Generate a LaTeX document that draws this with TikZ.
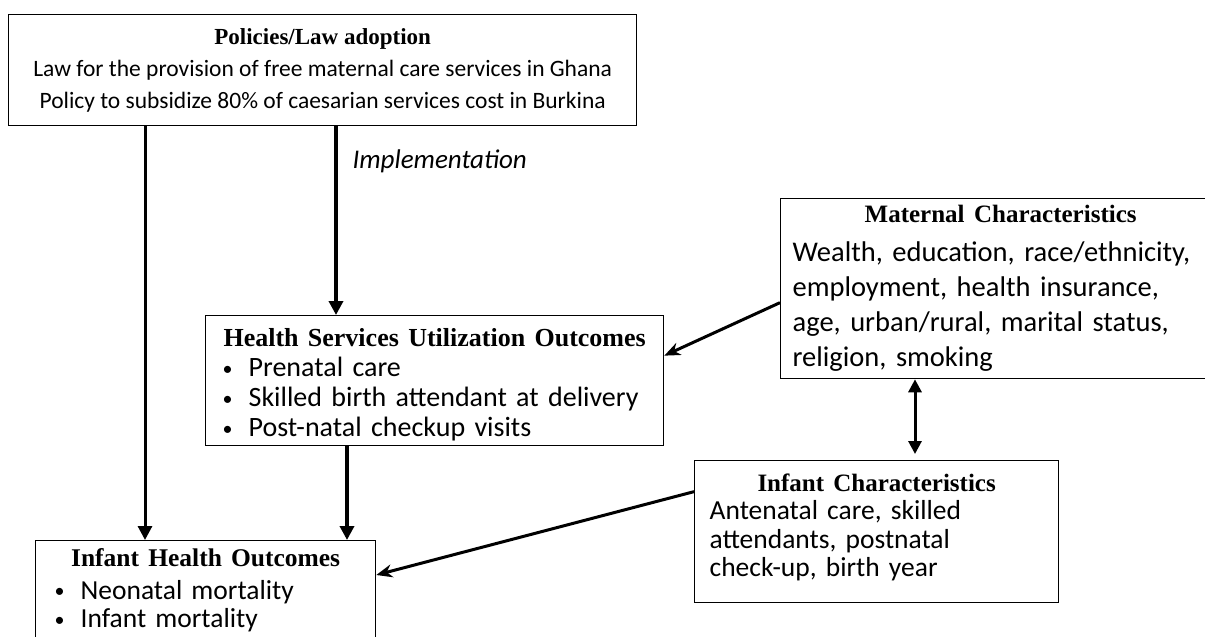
\documentclass[tikz,border=0pt]{standalone}
\usepackage{fontspec}
\setmainfont{Carlito}
\newfontfamily\headfont{Liberation Serif}
\usetikzlibrary{arrows.meta,positioning}
\newcommand\hd{\headfont\bfseries}
\newcommand\bul{\hspace*{3pt}\makebox[26pt][l]{\raisebox{1.5pt}{\fontsize{20}{20}\selectfont\textbullet}}}
\tikzset{
  box/.style={draw,line width=1.3pt,anchor=north west,inner ysep=0pt},
  arr/.style={-{Triangle[length=14pt,width=14pt]},line width=3pt},
  arrd/.style={{Triangle[length=13pt,width=13pt]}-{Triangle[length=13pt,width=13pt]},line width=3pt},
  arrs/.style={-{Stealth[length=16pt,width=13pt]},line width=3pt},
}
\begin{document}
\begin{tikzpicture}[x=1pt,y=-1pt]
  \clip (0,0) rectangle (1205,637);
  \node[box,minimum width=628pt,minimum height=111pt,align=center,font=\fontsize{23.5}{32}\selectfont] (pol) at (8,14)
    {{\hd\fontsize{23}{32}\selectfont Policies/Law adoption}\\
     Law for the provision of free maternal care services in Ghana\\
     Policy to subsidize 80\% of caesarian services cost in Burkina};
  \node[box,minimum width=458pt,minimum height=130pt,text width=430pt,inner xsep=14pt,align=left,font=\fontsize{28}{30}\selectfont] (hsu) at (205,315)
    {\centering{\hd\fontsize{26}{30}\selectfont\rule{0pt}{27pt}Health Services Utilization Outcomes}\par
     \raggedright\bul Prenatal care\\
     \bul Skilled birth attendant at delivery\\
     \bul Post-natal checkup visits};
  \node[box,minimum width=440pt,minimum height=180pt,text width=416pt,inner xsep=10pt,align=left,font=\fontsize{28.5}{35}\selectfont] (mat) at (780,198)
    {\centering{\hd\fontsize{25}{34}\selectfont Maternal Characteristics}\par\kern4pt
     \raggedright Wealth, education, race/ethnicity,\\
     employment, health insurance,\\
     age, urban/rural, marital status,\\
     religion, smoking};
  \node[box,minimum width=364pt,minimum height=142pt,text width=334pt,inner xsep=15pt,align=left,font=\fontsize{27.5}{28.5}\selectfont] (ich) at (694,460)
    {\centering{\hd\fontsize{25}{30}\selectfont Infant Characteristics}\par
     \raggedright Antenatal care, skilled\\
     attendants, postnatal\\
     check-up, birth year\par\kern8pt};
  \node[box,minimum width=340pt,minimum height=100pt,text width=312pt,inner xsep=14pt,align=left,font=\fontsize{27.5}{28.5}\selectfont] (iho) at (35,540)
    {\centering{\hd\fontsize{25.5}{30}\selectfont Infant Health Outcomes}\par\kern4pt
     \raggedright\hspace*{2pt}\bul Neonatal mortality\\
     \hspace*{2pt}\bul Infant mortality};
  \node[anchor=west,font=\itshape\fontsize{27}{28}\selectfont] (impl) at (349,161) {Implementation};

  \coordinate (p1) at ([xshift=137pt]pol.south west);
  \coordinate (p2) at ([xshift=328pt]pol.south west);
  \coordinate (p3) at ([xshift=142pt]hsu.south west);
  \coordinate (p4) at ([xshift=135pt]mat.south west);
  \draw[arr] (p1) -- (p1 |- iho.north);
  \draw[arr,line width=3.5pt] (p2) -- (p2 |- hsu.north);
  \draw[arr,line width=4.5pt] (p3) -- (p3 |- iho.north);
  \draw[arrd] (p4) -- ([yshift=6pt]p4 |- ich.north);
  \draw[arrs] ([yshift=-14pt]mat.west) -- ([yshift=25pt]hsu.east);
  \draw[arrs] ([yshift=40pt]ich.west) -- ([yshift=-35pt]iho.north east);
\end{tikzpicture}
\end{document}
